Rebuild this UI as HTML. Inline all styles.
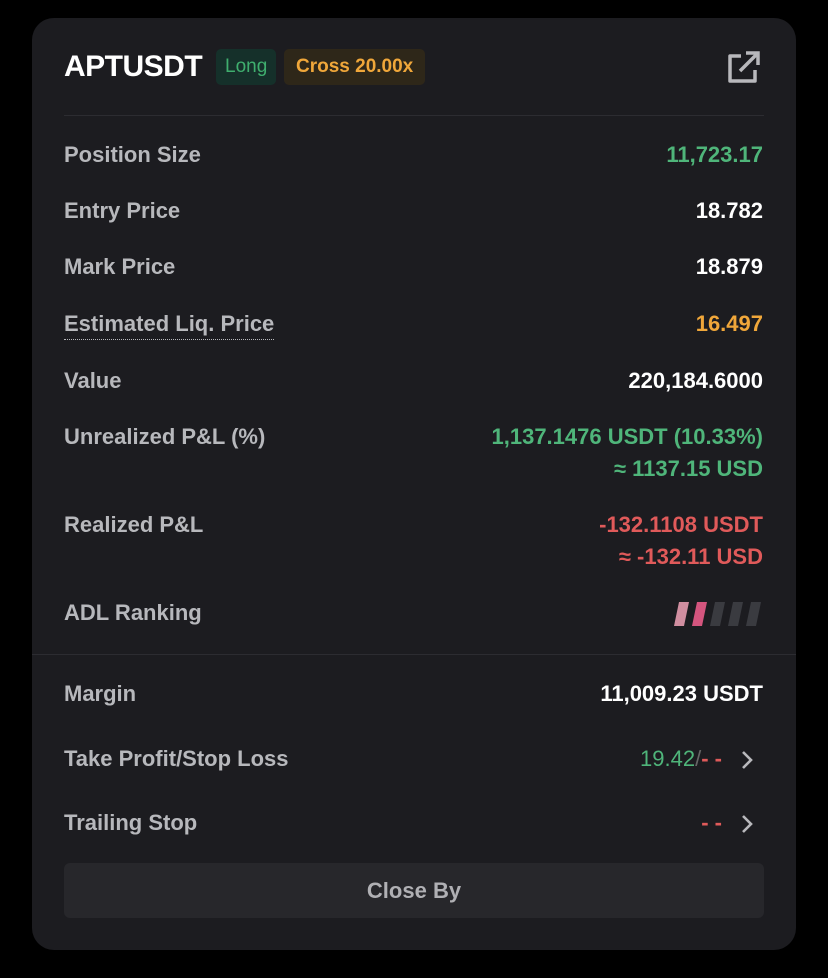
<!DOCTYPE html>
<html><head><meta charset="utf-8"><style>
body{margin:0;width:828px;height:978px;background:#000;font-family:"Liberation Sans",sans-serif;position:relative;overflow:hidden}
.card{position:absolute;left:32px;top:18px;width:764px;height:932px;background:#1c1c20;border-radius:22px}
.t{position:absolute;font-size:22px;line-height:30px;white-space:nowrap;font-weight:bold}
.l{left:64px;color:#b7b8bc}
.r{right:65px;text-align:right;color:#fff}
.g{color:#4fb57a}.o{color:#f0a73a}.red{color:#e05a5a}
.sep{position:absolute;height:1px;background:#2c2c31}
</style></head><body>
<div class="card"></div>
<div class="t" style="left:64px;top:49px;font-size:30px;line-height:36px;font-weight:bold;color:#fff;letter-spacing:-0.5px">APTUSDT</div>
<div class="t" style="left:216px;top:49px;height:36px;line-height:36px;padding:0 9px;font-size:19px;font-weight:normal;background:#15302a;color:#3fae6e;border-radius:5px">Long</div>
<div class="t" style="left:284px;top:49px;height:36px;line-height:36px;padding:0 12px;font-size:19px;font-weight:bold;background:#2e2719;color:#f0a73a;border-radius:5px">Cross 20.00x</div>
<svg style="position:absolute;left:725px;top:50px" width="38" height="36" viewBox="0 0 38 36"><path d="M16 6H5v25h25V20" fill="none" stroke="#b8b8bc" stroke-width="3.5" stroke-linejoin="round"/><path d="M15 21L33 3M21 3h12v12" fill="none" stroke="#b8b8bc" stroke-width="3.5"/></svg>
<div class="sep" style="left:64px;top:115px;width:700px"></div>

<div class="t l" style="top:140px">Position Size</div>
<div class="t r g" style="top:140px">11,723.17</div>
<div class="t l" style="top:196px">Entry Price</div>
<div class="t r" style="top:196px">18.782</div>
<div class="t l" style="top:252px">Mark Price</div>
<div class="t r" style="top:252px">18.879</div>
<div class="t l" style="top:309px;border-bottom:1px dotted #b7b8bc;line-height:30px">Estimated Liq. Price</div>
<div class="t r o" style="top:309px">16.497</div>
<div class="t l" style="top:366px">Value</div>
<div class="t r" style="top:366px">220,184.6000</div>
<div class="t l" style="top:422px">Unrealized P&amp;L (%)</div>
<div class="t r g" style="top:422px">1,137.1476 USDT (10.33%)</div>
<div class="t r g" style="top:454px">≈ 1137.15 USD</div>
<div class="t l" style="top:510px">Realized P&amp;L</div>
<div class="t r red" style="top:510px">-132.1108 USDT</div>
<div class="t r red" style="top:542px">≈ -132.11 USD</div>
<div class="t l" style="top:598px">ADL Ranking</div>
<svg style="position:absolute;left:674px;top:602px" width="90" height="24">
<polygon points="5,0 15,0 10,24 0,24" fill="#d08ea0"/>
<polygon points="23,0 33,0 28,24 18,24" fill="#d4557e"/>
<polygon points="41,0 51,0 46,24 36,24" fill="#3a3b40"/>
<polygon points="59,0 69,0 64,24 54,24" fill="#3a3b40"/>
<polygon points="77,0 87,0 82,24 72,24" fill="#3a3b40"/>
</svg>
<div class="sep" style="left:32px;top:654px;width:764px"></div>
<div class="t l" style="top:679px">Margin</div>
<div class="t r" style="top:679px">11,009.23 USDT</div>
<div class="t l" style="top:744px">Take Profit/Stop Loss</div>
<div class="t" style="top:744px;right:106px;font-weight:normal"><span class="g">19.42</span><span style="color:#666">/</span><span class="red" style="font-weight:bold">- -</span></div>
<svg style="position:absolute;left:740px;top:750px" width="14" height="20"><path d="M3 2l8 8-8 8" fill="none" stroke="#b8b8bc" stroke-width="2.6"/></svg>
<div class="t l" style="top:808px">Trailing Stop</div>
<div class="t red" style="top:808px;right:106px">- -</div>
<svg style="position:absolute;left:740px;top:814px" width="14" height="20"><path d="M3 2l8 8-8 8" fill="none" stroke="#b8b8bc" stroke-width="2.6"/></svg>
<div style="position:absolute;left:64px;top:863px;width:700px;height:55px;background:#27272b;border-radius:6px;color:#b0b0b4;font-size:22px;font-weight:bold;line-height:55px;text-align:center">Close By</div>
</body></html>
